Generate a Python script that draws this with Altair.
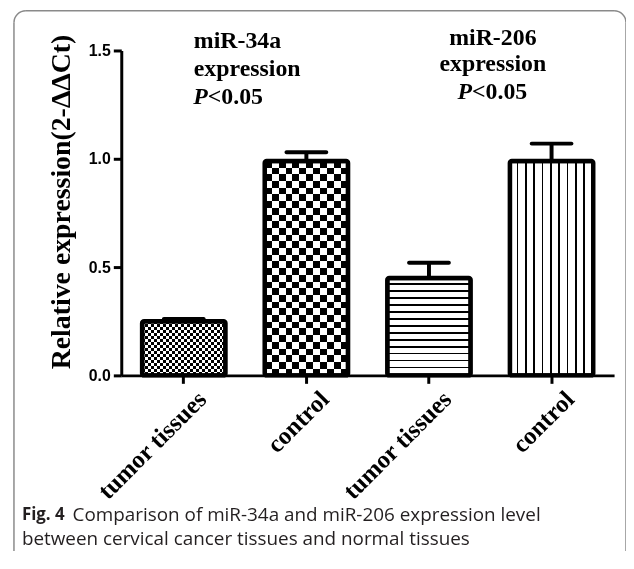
import altair as alt
import pandas as pd

# ---- data ----
groups = ["miR-34a", "miR-34a", "miR-206", "miR-206"]
labels = ["tumor tissues", "control", "tumor tissues", "control"]
means = [0.25, 0.99, 0.45, 0.99]
sems = [0.01, 0.04, 0.07, 0.08]
y_ticks = [0.0, 0.5, 1.0, 1.5]
y_title = "Relative expression(2-ΔΔCt)"
notes_34a = ["miR-34a", "expression"]
notes_206 = ["miR-206", "expression"]
p_italic = "P"
p_rest = "<0.05"
caption_bold = "Fig. 4"
caption_line1 = "Comparison of miR-34a and miR-206 expression level"
caption_line2 = "between cervical cancer tissues and normal tissues"

df = pd.DataFrame({"group": groups, "label": labels, "mean": means, "sem": sems})
df["key"] = [f"{g}|{l}" for g, l in zip(groups, labels)]
df["upper"] = df["mean"] + df["sem"]
keys = list(df["key"])

W, H = 496, 327
SERIF = "Liberation Serif"
SANS = "Liberation Sans"

xaxis = alt.Axis(
    title=None, labelExpr="split(datum.value, '|')[1]", labelAngle=-45,
    labelFont=SERIF, labelFontWeight="bold", labelFontSize=25, labelColor="black",
    domainColor="black", domainWidth=3, tickColor="black", tickWidth=3, tickSize=8,
    labelPadding=3, labelOffset=10, grid=False,
)
yaxis = alt.Axis(
    title=y_title, values=y_ticks, format=".1f",
    labelFont=SANS, labelFontWeight="bold", labelFontSize=16, labelColor="black",
    labelPadding=3,
    domainColor="black", domainWidth=3, tickColor="black", tickWidth=3, tickSize=8,
    titleFont=SERIF, titleFontWeight="bold", titleFontSize=28, titleColor="black",
    titleAngle=-90, titleX=-52, titleY=152, titleBaseline="alphabetic", titleAlign="center",
    grid=False,
)
xscale = alt.Scale(paddingInner=0.32, paddingOuter=0.17)
yscale = alt.Scale(domain=[0, 1.5], nice=False, zero=True)


def X():
    return alt.X("key:N", sort=keys, scale=xscale, axis=xaxis)


def Y(field):
    return alt.Y(f"{field}:Q", scale=yscale, axis=yaxis)


def stripes(n, frac, vertical):
    stops = []
    for k in range(n):
        a, b, c = k / n, (k + 1 - frac) / n, (k + 1) / n
        stops += [
            {"offset": a, "color": "white"},
            {"offset": b, "color": "white"},
            {"offset": b, "color": "black"},
            {"offset": c, "color": "black"},
        ]
    if vertical:
        return {"gradient": "linear", "x1": 0, "y1": 0, "x2": 1, "y2": 0, "stops": stops}
    return {"gradient": "linear", "x1": 0, "y1": 0, "x2": 0, "y2": 1, "stops": stops}


def bar_fill(i, fill, blend=None):
    kw = {"fill": fill, "strokeWidth": 0}
    if blend:
        kw["blend"] = blend
    return (
        alt.Chart(df)
        .transform_filter(alt.datum.key == keys[i])
        .mark_bar(**kw)
        .encode(x=X(), y=Y("mean"))
    )


fills = [
    bar_fill(0, stripes(14, 0.5, True)),
    bar_fill(0, stripes(9, 0.5, False), blend="difference"),
    bar_fill(1, stripes(6, 0.5, True)),
    bar_fill(1, stripes(16, 0.5, False), blend="difference"),
    bar_fill(2, stripes(14, 0.22, False)),
    bar_fill(3, stripes(10, 0.2, True)),
]

outline = alt.Chart(df).mark_bar(
    fillOpacity=0, stroke="black", strokeWidth=4.5, strokeJoin="round", cornerRadius=2
).encode(x=X(), y=Y("mean"))

err_rule = alt.Chart(df).mark_rule(color="black", strokeWidth=4).encode(
    x=X(), y=Y("mean"), y2="upper:Q"
)
err_cap = alt.Chart(df).mark_tick(
    color="black", size=44, thickness=4, cornerRadius=2, opacity=1
).encode(x=X(), y=Y("upper"))


def text(t, x, y, align="left", font=SERIF, size=24, weight="bold", style="normal", color="black"):
    return alt.Chart(pd.DataFrame({"t": [t]})).mark_text(
        align=align, baseline="middle", font=font, fontSize=size, fontWeight=weight,
        fontStyle=style, color=color,
    ).encode(text="t:N", x=alt.value(x), y=alt.value(y))


notes = [
    text(notes_34a[0], 73, -9),
    text(notes_34a[1], 73, 19),
    text(p_italic, 87, 47, align="right", style="italic"),
    text(p_rest, 87, 47),
    text(notes_206[0], 374, -13, align="center"),
    text(notes_206[1], 374, 14, align="center"),
    text(p_italic, 353, 42, align="right", style="italic"),
    text(p_rest, 353, 42),
]

CAP = "Open Sans"
CAPC = "#231f20"
caption = [
    text(caption_bold, -100, 468, font=CAP, size=17, color=CAPC),
    text(caption_line1, -49, 468, font=CAP, size=19, weight="normal", color=CAPC),
    text(caption_line2, -100, 492, font=CAP, size=19, weight="normal", color=CAPC),
]

# decorative card border: left, top and right edges only (bottom runs off the page)
GREY = "#8a8a8a"
frame_left = alt.Chart(pd.DataFrame({"a": [0]})).mark_rule(
    stroke=GREY, strokeWidth=1.5
).encode(x=alt.value(-108), y=alt.value(-28), y2=alt.value(520))
frame_top = alt.Chart(pd.DataFrame({"a": [0]})).mark_rule(
    stroke=GREY, strokeWidth=1.5
).encode(x=alt.value(-96), x2=alt.value(496), y=alt.value(-40))
frame_right = alt.Chart(pd.DataFrame({"a": [0]})).mark_rule(
    stroke=GREY, strokeWidth=1.5
).encode(x=alt.value(508), y=alt.value(-28), y2=alt.value(520))
corner_l = alt.Chart(pd.DataFrame({"a": [0]})).mark_arc(
    stroke=GREY, strokeWidth=1.5, fillOpacity=0, radius=12, radius2=12,
    theta=4.712, theta2=6.283,
).encode(x=alt.value(-96), y=alt.value(-28))
corner_r = alt.Chart(pd.DataFrame({"a": [0]})).mark_arc(
    stroke=GREY, strokeWidth=1.5, fillOpacity=0, radius=12, radius2=12,
    theta=0, theta2=1.571,
).encode(x=alt.value(496), y=alt.value(-28))

chart = alt.layer(
    frame_left, frame_top, frame_right, corner_l, corner_r,
    *fills, outline, err_rule, err_cap, *notes, *caption
).properties(
    width=W, height=H,
    background="white",
    autosize=alt.AutoSizeParams(type="none"),
    padding={"left": 114, "top": 41, "right": 12, "bottom": 175},
).configure_view(stroke=None)

chart.save("out.html", embed_options={"renderer": "svg", "actions": False})
